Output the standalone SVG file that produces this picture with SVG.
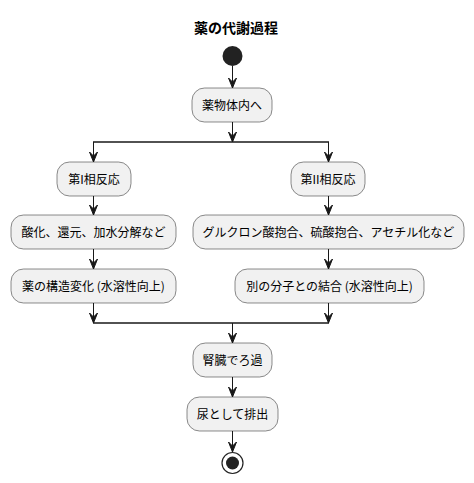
<svg xmlns="http://www.w3.org/2000/svg" width="474" height="483" viewBox="0 0 474 483">
<style>
.box{fill:#F1F1F1;stroke:#181818;stroke-width:0.5}
.t{font-family:"Noto Sans CJK JP","Noto Sans",sans-serif;font-size:12px;fill:#000;text-anchor:middle}
.title{font-family:"Noto Sans CJK JP","Noto Sans",sans-serif;font-size:14px;font-weight:bold;fill:#000;text-anchor:middle}
.ln{stroke:#181818;stroke-width:1;fill:none}
.bar{stroke:#181818;stroke-width:1.5;fill:none}
.ah{fill:#181818;stroke:#181818;stroke-width:1}
</style>
<defs>
<polygon id="arr" class="ah" points="-4,-10 0,0 4,-10 0,-6"/>
</defs>
<rect width="474" height="483" fill="#FFFFFF"/>
<text class="title" x="236" y="33">薬の代謝過程</text>
<g id="connectors">
<line class="ln" x1="232.5" y1="66" x2="232.5" y2="88"/>
<use href="#arr" x="232.5" y="88"/>
<line class="ln" x1="232.5" y1="122" x2="232.5" y2="142"/>
<use href="#arr" x="232.5" y="142"/>
<line class="bar" x1="93" y1="142" x2="329" y2="142"/>
<line class="ln" x1="93.5" y1="142" x2="93.5" y2="162"/>
<use href="#arr" x="93.5" y="162"/>
<line class="ln" x1="328.5" y1="142" x2="328.5" y2="162"/>
<use href="#arr" x="328.5" y="162"/>
<line class="ln" x1="93.5" y1="196" x2="93.5" y2="215"/>
<use href="#arr" x="93.5" y="215"/>
<line class="ln" x1="328.5" y1="196" x2="328.5" y2="215"/>
<use href="#arr" x="328.5" y="215"/>
<line class="ln" x1="93.5" y1="249" x2="93.5" y2="269"/>
<use href="#arr" x="93.5" y="269"/>
<line class="ln" x1="328.5" y1="249" x2="328.5" y2="269"/>
<use href="#arr" x="328.5" y="269"/>
<line class="ln" x1="93.5" y1="303" x2="93.5" y2="323"/>
<use href="#arr" x="93.5" y="323"/>
<line class="ln" x1="328.5" y1="303" x2="328.5" y2="323"/>
<use href="#arr" x="328.5" y="323"/>
<line class="bar" x1="93" y1="323" x2="329" y2="323"/>
<line class="ln" x1="232.5" y1="323" x2="232.5" y2="343"/>
<use href="#arr" x="232.5" y="343"/>
<line class="ln" x1="232.5" y1="377" x2="232.5" y2="397"/>
<use href="#arr" x="232.5" y="397"/>
<line class="ln" x1="232.5" y1="431" x2="232.5" y2="452"/>
<use href="#arr" x="232.5" y="452"/>
</g>
<g id="start"><circle cx="232.5" cy="56" r="10" fill="#222222"/></g>
<g id="n1"><rect class="box" x="192" y="88" width="80" height="34" rx="12.5"/><text class="t" x="232" y="109.5">薬物体内へ</text></g>
<g id="n2"><rect class="box" x="57" y="162" width="74" height="34" rx="12.5"/><text class="t" x="94" y="183.5">第I相反応</text></g>
<g id="n3"><rect class="box" x="291" y="162" width="74" height="34" rx="12.5"/><text class="t" x="328" y="183.5">第II相反応</text></g>
<g id="n4"><rect class="box" x="11" y="215" width="165" height="34" rx="12.5"/><text class="t" x="93.5" y="236.5">酸化、還元、加水分解など</text></g>
<g id="n5"><rect class="box" x="193" y="215" width="271" height="34" rx="12.5"/><text class="t" x="328.5" y="236.5">グルクロン酸抱合、硫酸抱合、アセチル化など</text></g>
<g id="n6"><rect class="box" x="11" y="269" width="165" height="34" rx="12.5"/><text class="t" x="93.5" y="290.5">薬の構造変化 (水溶性向上)</text></g>
<g id="n7"><rect class="box" x="235" y="269" width="189" height="34" rx="12.5"/><text class="t" x="329.5" y="290.5">別の分子との結合 (水溶性向上)</text></g>
<g id="n8"><rect class="box" x="193" y="343" width="79" height="34" rx="12.5"/><text class="t" x="232.5" y="364.5">腎臓でろ過</text></g>
<g id="n9"><rect class="box" x="187" y="397" width="91" height="34" rx="12.5"/><text class="t" x="232.5" y="418.5">尿として排出</text></g>
<g id="end"><circle cx="232.5" cy="463" r="10.5" fill="none" stroke="#222222" stroke-width="1.2"/><circle cx="232.5" cy="463" r="6.5" fill="#222222"/></g>
</svg>
